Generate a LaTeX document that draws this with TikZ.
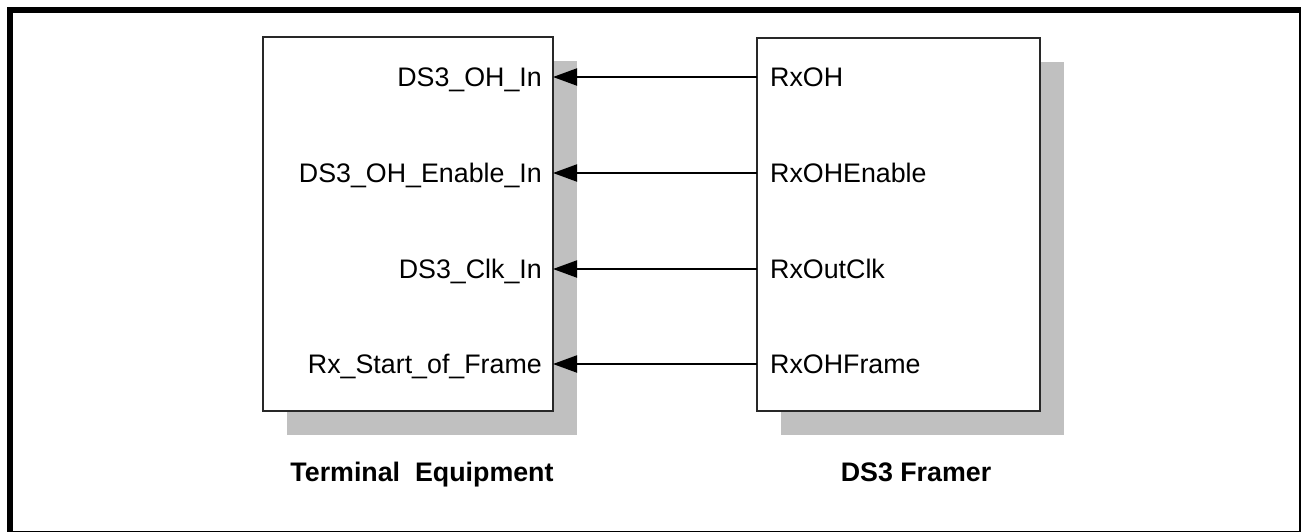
\documentclass[tikz,border=0pt]{standalone}
\usepackage{fontspec}
\setmainfont{Liberation Sans}
\usetikzlibrary{arrows.meta, positioning, shadows}
\definecolor{shadowgray}{RGB}{192, 192, 192}
\definecolor{boxline}{RGB}{40, 40, 40}

\tikzset{
  unit/.style={draw=boxline, line width=1.2pt, fill=white, inner sep=0pt,
    drop shadow={shadow xshift=24pt, shadow yshift=-23.5pt, fill=shadowgray, opacity=1}},
  inpin/.style={anchor=east, inner xsep=11pt, inner ysep=0pt, text height=19.2pt, text depth=0pt},
  outpin/.style={anchor=west, inner xsep=13pt, inner ysep=0pt, text height=19.2pt, text depth=0pt},
  sig/.style={line width=2pt, -{Triangle[length=24pt, width=17pt]}},
  caption/.style={font=\fontsize{26.8}{32}\selectfont\bfseries, inner sep=0pt, text height=19.2pt, text depth=0pt}
}

\begin{document}
\begin{tikzpicture}[x=1pt, y=-1pt, font=\fontsize{26.8}{32}\selectfont]
    \useasboundingbox (0,0) rectangle (1301,531);
    \draw[line width=6pt] (10,10) rectangle (1302,534);

    % the two units
    \node[unit, minimum width=290pt, minimum height=374pt] (te) at (408,224) {};
    \node[unit, minimum width=283pt, minimum height=373pt] (fr) at (898.5,224.5) {};

    % pins of the terminal equipment
    \node[inpin] (ohin) at (553,77) {DS3\_OH\_In};
    \node[inpin] (ohenin) at (553,173) {DS3\_OH\_Enable\_In};
    \node[inpin] (clkin) at (553,269) {DS3\_Clk\_In};
    \node[inpin] (sofin) at (553,364) {Rx\_Start\_of\_Frame};

    % pins of the framer
    \node[outpin] (rxoh) at (757,77) {RxOH};
    \node[outpin] (rxohen) at (757,173) {RxOHEnable};
    \node[outpin] (rxclk) at (757,269) {RxOutClk};
    \node[outpin] (rxframe) at (757,364) {RxOHFrame};

    \draw[sig] (rxoh.west) -- (ohin.east);
    \draw[sig] (rxohen.west) -- (ohenin.east);
    \draw[sig] (rxclk.west) -- (clkin.east);
    \draw[sig] (rxframe.west) -- (sofin.east);

    \node[caption] (telabel) at (422,472) {Terminal\ \ Equipment};
    \node[caption] (frlabel) at (916,472) {DS3 Framer};
\end{tikzpicture}
\end{document}
